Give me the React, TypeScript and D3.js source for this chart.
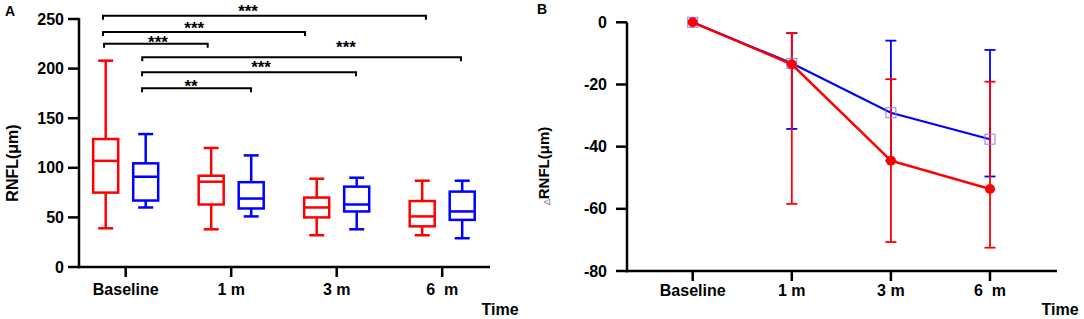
import React from "react";
import * as d3 from "d3";

const categories = ["Baseline", "1 m", "3 m", "6  m"];
// Panel A box stats: [min, q1, median, q3, max]
const redBoxes = [
  [39, 75, 107, 129, 208],
  [38, 63, 86, 92, 120],
  [32, 50, 60, 70, 89],
  [32, 41, 51, 66.5, 87],
];
const blueBoxes = [
  [60, 67, 91, 104.5, 134],
  [51, 59, 69, 85.5, 112.5],
  [38, 56, 63, 81, 90],
  [29, 47.5, 56, 76, 87],
];
const yTicksA = [0, 50, 100, 150, 200, 250];
// significance brackets: x in category units, y in data units (ly = label centre)
const brackets = [
  { x1: -0.215, x2: 2.846, y: 253.3, label: "***", lx: 1.16, ly: 262.4 },
  { x1: -0.215, x2: 1.70, y: 236.9, label: "***", lx: 0.65, ly: 244.5 },
  { x1: -0.205, x2: 0.777, y: 225, label: "***", lx: 0.306, ly: 230.3 },
  { x1: 0.157, x2: 3.178, y: 211.4, label: "***", lx: 2.088, ly: 225.8 },
  { x1: 0.155, x2: 2.183, y: 196.3, label: "***", lx: 1.283, ly: 205.6 },
  { x1: 0.155, x2: 1.188, y: 180.1, label: "**", lx: 0.62, ly: 186.8 },
];

// Panel B
const redMean = [0, -13.5, -44.5, -53.6];
const redLo = [0, -58.4, -70.7, -72.5];
const redHi = [0, -3.5, -18.3, -19.1];
const blueMean = [0, -13.2, -29.1, -37.6];
const blueLo = [0, -34.3, -44.5, -49.6];
const blueHi = [0, -3.5, -5.9, -8.9];
const yTicksB = [0, -20, -40, -60, -80];

const RED = "#ff0000";
const BLUE = "#0000ff";
const FONT = "'Liberation Sans', Arial, sans-serif";
const STAR_FS = 17;

export default function App() {
  // Panel A scales
  const yA = d3.scaleLinear().domain([0, 250]).range([267, 19]);
  const xA = d3.scalePoint<string>().domain(categories).range([125.7, 442.2]);
  const uA = d3.scaleLinear().domain([0, 3]).range([125.7, 442.2]);
  const off = 20;
  const bw = 25;
  const cw = 15;

  // Panel B scales
  const yB = d3.scaleLinear().domain([-80, 0]).range([271, 22.3]);
  const xB = d3.scalePoint<string>().domain(categories).range([692.7, 990]);

  const lineGen = (vals: number[]) =>
    d3
      .line<number>()
      .x((_, i) => xB(categories[i]) as number)
      .y((v) => yB(v))(vals) as string;

  const renderBox = (s: number[], cx: number, color: string, key: string) => {
    const [mn, q1, md, q3, mx] = s;
    return (
      <g key={key} stroke={color} strokeWidth={2.5} fill="none">
        <line x1={cx} x2={cx} y1={yA(mx)} y2={yA(q3)} />
        <line x1={cx} x2={cx} y1={yA(q1)} y2={yA(mn)} />
        <line x1={cx - cw / 2} x2={cx + cw / 2} y1={yA(mx)} y2={yA(mx)} />
        <line x1={cx - cw / 2} x2={cx + cw / 2} y1={yA(mn)} y2={yA(mn)} />
        <rect x={cx - bw / 2} y={yA(q3)} width={bw} height={yA(q1) - yA(q3)} />
        <line x1={cx - bw / 2} x2={cx + bw / 2} y1={yA(md)} y2={yA(md)} />
      </g>
    );
  };

  return (
    <svg
      width={1084}
      height={319}
      style={{ position: "absolute", left: 0, top: 0, background: "#fff" }}
      fontFamily={FONT}
    >
      {/* ---------- Panel A ---------- */}
      <text x={5} y={16} fontSize={14} fontWeight="bold">A</text>
      {/* y axis */}
      <line x1={79} x2={79} y1={yA(250) - 1} y2={yA(0) + 1.25} stroke="#000" strokeWidth={2.5} />
      {yTicksA.map((t) => (
        <g key={"ya" + t}>
          <line x1={68} x2={79} y1={yA(t)} y2={yA(t)} stroke="#000" strokeWidth={2.5} />
          <text x={64} y={yA(t)} dy="0.35em" textAnchor="end" fontSize={16} fontWeight="bold">
            {t}
          </text>
        </g>
      ))}
      <text
        transform={`translate(18, 163) rotate(-90)`}
        textAnchor="middle"
        fontSize={16}
        fontWeight="bold"
      >
        RNFL(μm)
      </text>
      {/* x axis */}
      <line x1={77.75} x2={490} y1={yA(0)} y2={yA(0)} stroke="#000" strokeWidth={2.5} />
      {categories.map((c) => (
        <g key={"xa" + c}>
          <line x1={xA(c)} x2={xA(c)} y1={yA(0)} y2={yA(0) + 10} stroke="#000" strokeWidth={2.5} />
          <text x={xA(c)} y={295} textAnchor="middle" fontSize={16} fontWeight="bold" style={{ whiteSpace: "pre" }}>
            {c}
          </text>
        </g>
      ))}
      <text x={500} y={315} textAnchor="middle" fontSize={16} fontWeight="bold">Time</text>
      {/* boxes */}
      {categories.map((c, i) => renderBox(redBoxes[i], (xA(c) as number) - off, RED, "r" + i))}
      {categories.map((c, i) => renderBox(blueBoxes[i], (xA(c) as number) + off, BLUE, "b" + i))}
      {/* brackets */}
      {brackets.map((b, i) => (
        <g key={"br" + i}>
          <path
            d={`M${uA(b.x1)},${yA(b.y) + 4}V${yA(b.y)}H${uA(b.x2)}V${yA(b.y) + 4}`}
            fill="none"
            stroke="#000"
            strokeWidth={2}
          />
          <text
            x={uA(b.lx)}
            y={yA(b.ly) + 0.58 * STAR_FS}
            textAnchor="middle"
            fontSize={STAR_FS}
            fontWeight="bold"
          >
            {b.label}
          </text>
        </g>
      ))}

      {/* ---------- Panel B ---------- */}
      <text x={537} y={14} fontSize={14} fontWeight="bold">B</text>
      <line x1={627} x2={627} y1={yB(0)} y2={yB(-80) + 1.25} stroke="#000" strokeWidth={2.5} />
      {yTicksB.map((t) => (
        <g key={"yb" + t}>
          <line x1={616} x2={627} y1={yB(t)} y2={yB(t)} stroke="#000" strokeWidth={2.5} />
          <text x={607} y={yB(t)} dy="0.35em" textAnchor="end" fontSize={16} fontWeight="bold">
            {t}
          </text>
        </g>
      ))}
      <text
        transform={`translate(549, 166) rotate(-90)`}
        textAnchor="middle"
        fontSize={15}
        fontWeight="bold"
      >
        <tspan fontSize={8} fontWeight="normal">△</tspan>
        RNFL(μm)
      </text>
      <line x1={625.75} x2={1057} y1={yB(-80)} y2={yB(-80)} stroke="#000" strokeWidth={2.5} />
      {categories.map((c) => (
        <g key={"xb" + c}>
          <line x1={xB(c)} x2={xB(c)} y1={yB(-80)} y2={yB(-80) + 10} stroke="#000" strokeWidth={2.5} />
          <text x={xB(c)} y={296} textAnchor="middle" fontSize={16} fontWeight="bold" style={{ whiteSpace: "pre" }}>
            {c}
          </text>
        </g>
      ))}
      <text x={1060} y={315} textAnchor="middle" fontSize={16} fontWeight="bold">Time</text>

      {/* blue error bars */}
      {categories.map((c, i) =>
        blueHi[i] === blueLo[i] ? null : (
          <g key={"be" + i} stroke={BLUE} strokeWidth={1.8}>
            <line x1={xB(c)} x2={xB(c)} y1={yB(blueHi[i])} y2={yB(blueLo[i])} />
            <line x1={(xB(c) as number) - 5.5} x2={(xB(c) as number) + 5.5} y1={yB(blueHi[i])} y2={yB(blueHi[i])} />
            <line x1={(xB(c) as number) - 5.5} x2={(xB(c) as number) + 5.5} y1={yB(blueLo[i])} y2={yB(blueLo[i])} />
          </g>
        )
      )}
      {/* blue line */}
      <path d={lineGen(blueMean)} fill="none" stroke={BLUE} strokeWidth={2.2} />
      {/* red error bars */}
      {categories.map((c, i) =>
        redHi[i] === redLo[i] ? null : (
          <g key={"re" + i} stroke={RED} strokeWidth={1.8}>
            <line x1={xB(c)} x2={xB(c)} y1={yB(redHi[i])} y2={yB(redLo[i])} />
            <line x1={(xB(c) as number) - 5.5} x2={(xB(c) as number) + 5.5} y1={yB(redHi[i])} y2={yB(redHi[i])} />
            <line x1={(xB(c) as number) - 5.5} x2={(xB(c) as number) + 5.5} y1={yB(redLo[i])} y2={yB(redLo[i])} />
          </g>
        )
      )}
      {/* blue squares */}
      {categories.map((c, i) => (
        <rect
          key={"bs" + i}
          x={(xB(c) as number) - 5}
          y={yB(blueMean[i]) - 5}
          width={10}
          height={10}
          fill="none"
          stroke="#8080ff"
          strokeWidth={1}
        />
      ))}
      {/* red line & points */}
      <path d={lineGen(redMean)} fill="none" stroke={RED} strokeWidth={2.5} />
      {categories.map((c, i) => (
        <circle key={"rc" + i} cx={xB(c)} cy={yB(redMean[i])} r={5} fill={RED} />
      ))}
    </svg>
  );
}
